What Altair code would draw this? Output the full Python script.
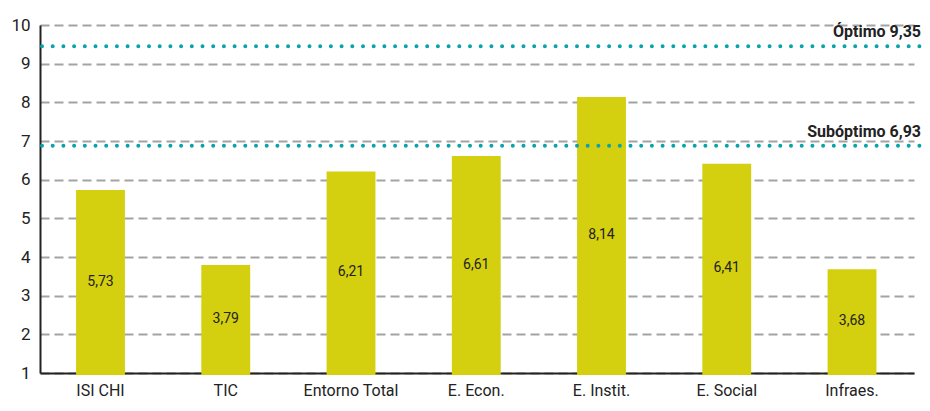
import altair as alt
import pandas as pd

categories = ["ISI CHI", "TIC", "Entorno Total", "E. Econ.", "E. Instit.", "E. Social", "Infraes."]
values = [5.73, 3.79, 6.21, 6.61, 8.14, 6.41, 3.68]
labels = ["5,73", "3,79", "6,21", "6,61", "8,14", "6,41", "3,68"]
ticks = [1, 2, 3, 4, 5, 6, 7, 8, 9, 10]

ref_values = [9.45, 6.88]
ref_labels = ["Óptimo 9,35", "Subóptimo 6,93"]

FONT = "Roboto"
W, H = 874, 348

df = pd.DataFrame({"cat": categories, "val": values, "lab": labels, "base": [0.95] * 7,
                   "mid": [(1 + v) / 2 for v in values]})
ref = pd.DataFrame({"v": ref_values, "t": ref_labels})

xscale = alt.Scale(paddingInner=0.61, paddingOuter=0.294, align=0.49)
yscale = alt.Scale(domain=[1, 10], nice=False, zero=False)

xaxis = alt.Axis(labelAngle=0, labelFont=FONT, labelFontSize=16, labelColor="#222",
                 domainColor="#222", domainWidth=2, ticks=False, labelPadding=9, grid=False)
yaxis = alt.Axis(values=ticks, labelFont=FONT, labelFontSize=17, labelColor="#222",
                 domainColor="#222", domainWidth=2, ticks=False, labelOverlap=False,
                 labelPadding=10, grid=True, gridColor="#a3a3a3", gridWidth=2, gridDash=[9, 5])

bars = alt.Chart(df).mark_bar(color="#d4cf0f").encode(
    x=alt.X("cat:N", sort=categories, scale=xscale, title=None, axis=xaxis),
    y=alt.Y("val:Q", scale=yscale, title=None, axis=yaxis),
    y2="base:Q",
)

text = alt.Chart(df).mark_text(font=FONT, fontSize=14, color="#222").encode(
    x=alt.X("cat:N", sort=categories, scale=xscale, title=None, axis=xaxis),
    y=alt.Y("mid:Q", scale=yscale, title=None, axis=yaxis),
    text="lab:N",
)

lines = alt.Chart(ref).mark_rule(color="#0aa3aa", strokeWidth=4, strokeDash=[0, 10.7],
                                 strokeCap="round").encode(
    y=alt.Y("v:Q", scale=yscale, title=None, axis=yaxis),
    x=alt.value(2),
    x2=alt.value(W + 10),
)

reftext = alt.Chart(ref).mark_text(font=FONT, fontSize=16, fontWeight="bold", color="#222",
                                   align="right", baseline="bottom", dy=-6).encode(
    y=alt.Y("v:Q", scale=yscale, title=None, axis=yaxis),
    x=alt.value(W + 7),
    text="t:N",
)

chart = alt.layer(bars, text, lines, reftext).properties(
    width=W, height=H,
    autosize=alt.AutoSizeParams(type="none"),
    padding={"left": 32, "top": 17, "right": 8, "bottom": 30},
).configure_view(stroke=None)

chart.save("out.html", embed_options={"renderer": "svg", "actions": False})
